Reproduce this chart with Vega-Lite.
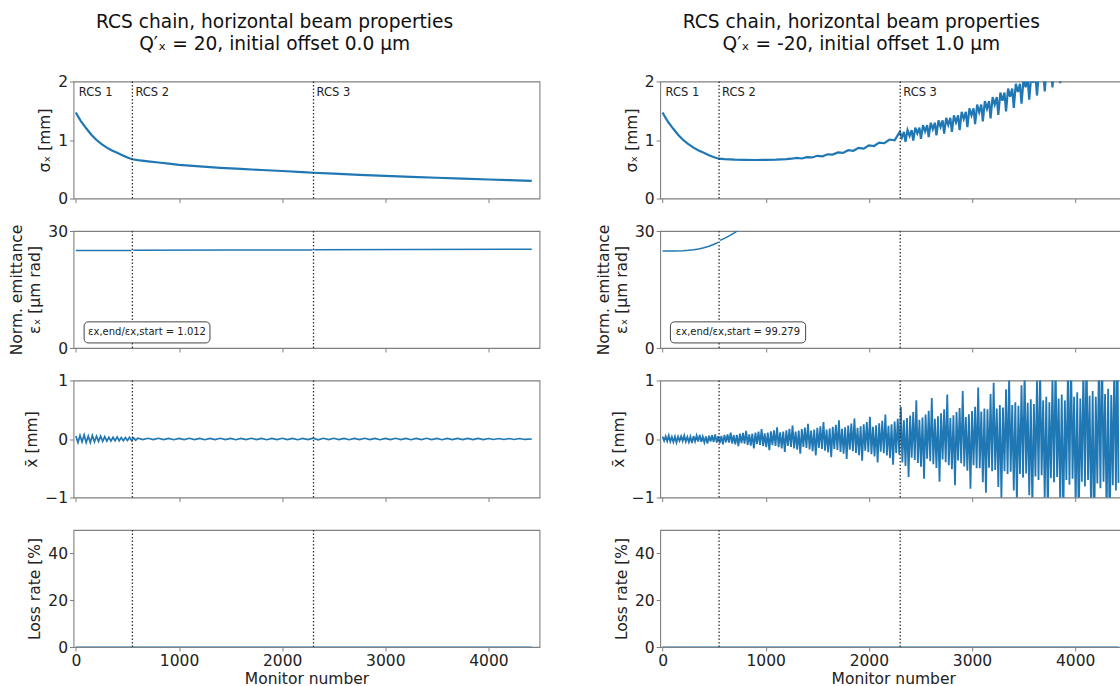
{
"$schema": "https://vega.github.io/schema/vega-lite/v6.json",
"background": "white",
"padding": {"left": 8.5, "top": 12.5, "right": 5, "bottom": 5},
"config": {
  "font": "DejaVu Sans",
  "view": {"stroke": "#808080", "strokeWidth": 1.1},
  "axis": {"domain": false, "grid": false, "ticks": true, "tickSize": 4, "tickColor": "#808080", "tickWidth": 1, "labelFont": "DejaVu Sans", "labelFontSize": 15.5, "labelColor": "#222", "labelPadding": 2, "titleFont": "DejaVu Sans", "titleFontSize": 15.5, "titleFontWeight": "normal", "titleColor": "#222", "titlePadding": 5, "titleLineHeight": 18, "labelFlush": false, "labelOverlap": false, "labelBound": false},
  "title": {"font": "DejaVu Sans", "fontSize": 18.6, "fontWeight": "normal", "color": "#111", "anchor": "middle", "frame": "bounds", "lineHeight": 22, "offset": 20}
},
"datasets": {
  "rcs": [{"m":0,"label":"RCS 1"},{"m":548,"label":"RCS 2"},{"m":2304,"label":"RCS 3"}],
  "ratio": [{"side":"L","t":"εx,end/εx,start = 1.012"},{"side":"R","t":"εx,end/εx,start = 99.279"}],
  "sigL": [{"m":0,"v":1.47},{"m":25,"v":1.39},{"m":50,"v":1.32},{"m":75,"v":1.26},{"m":100,"v":1.2},{"m":150,"v":1.09},{"m":200,"v":1.0},{"m":250,"v":0.93},{"m":300,"v":0.87},{"m":350,"v":0.82},{"m":400,"v":0.78},{"m":450,"v":0.74},{"m":500,"v":0.7},{"m":548,"v":0.67},{"m":600,"v":0.655},{"m":700,"v":0.635},{"m":800,"v":0.615},{"m":900,"v":0.595},{"m":1000,"v":0.575},{"m":1200,"v":0.55},{"m":1400,"v":0.525},{"m":1600,"v":0.505},{"m":1800,"v":0.487},{"m":2000,"v":0.47},{"m":2200,"v":0.452},{"m":2304,"v":0.44},{"m":2500,"v":0.425},{"m":2750,"v":0.405},{"m":3000,"v":0.387},{"m":3250,"v":0.37},{"m":3500,"v":0.355},{"m":3750,"v":0.34},{"m":4000,"v":0.325},{"m":4200,"v":0.313},{"m":4420,"v":0.3}],
  "sigR": [{"m":0,"v":1.47},{"m":25,"v":1.39},{"m":50,"v":1.32},{"m":75,"v":1.26},{"m":100,"v":1.2},{"m":150,"v":1.09},{"m":200,"v":1.0},{"m":250,"v":0.93},{"m":300,"v":0.87},{"m":350,"v":0.82},{"m":400,"v":0.78},{"m":450,"v":0.74},{"m":500,"v":0.705},{"m":548,"v":0.68},{"m":600,"v":0.672},{"m":700,"v":0.664},{"m":800,"v":0.66},{"m":900,"v":0.658},{"m":1000,"v":0.66},{"m":1100,"v":0.664},{"m":1200,"v":0.672},{"m":1250,"v":0.68},
    {"m":1300,"v":0.693},{"m":1350,"v":0.684},{"m":1400,"v":0.708},{"m":1450,"v":0.702},{"m":1500,"v":0.73},{"m":1550,"v":0.722},{"m":1600,"v":0.755},{"m":1650,"v":0.75},{"m":1700,"v":0.787},{"m":1750,"v":0.78},{"m":1800,"v":0.825},{"m":1850,"v":0.815},{"m":1900,"v":0.865},{"m":1950,"v":0.852},{"m":2000,"v":0.908},{"m":2050,"v":0.897},{"m":2100,"v":0.955},{"m":2150,"v":0.945},{"m":2200,"v":1.008},{"m":2250,"v":0.995},
    {"m":2300,"v":1.14},{"m":2320,"v":1.04},{"m":2340,"v":1.14},{"m":2355,"v":0.97},
    {"m":2375,"v":1.17},{"m":2395,"v":1.07},{"m":2415,"v":1.17},{"m":2430,"v":0.99},
    {"m":2450,"v":1.21},{"m":2470,"v":1.11},{"m":2490,"v":1.21},{"m":2505,"v":1.02},
    {"m":2525,"v":1.255},{"m":2545,"v":1.145},{"m":2565,"v":1.255},{"m":2580,"v":1.05},
    {"m":2600,"v":1.295},{"m":2620,"v":1.185},{"m":2640,"v":1.295},{"m":2655,"v":1.08},
    {"m":2675,"v":1.335},{"m":2695,"v":1.225},{"m":2715,"v":1.335},{"m":2730,"v":1.11},
    {"m":2750,"v":1.38},{"m":2770,"v":1.26},{"m":2790,"v":1.38},{"m":2805,"v":1.14},
    {"m":2825,"v":1.42},{"m":2845,"v":1.3},{"m":2865,"v":1.42},{"m":2880,"v":1.17},
    {"m":2900,"v":1.48},{"m":2920,"v":1.36},{"m":2940,"v":1.48},{"m":2955,"v":1.22},
    {"m":2975,"v":1.54},{"m":2995,"v":1.42},{"m":3015,"v":1.54},{"m":3030,"v":1.27},
    {"m":3050,"v":1.605},{"m":3070,"v":1.475},{"m":3090,"v":1.605},{"m":3105,"v":1.32},
    {"m":3125,"v":1.665},{"m":3145,"v":1.535},{"m":3165,"v":1.665},{"m":3180,"v":1.37},
    {"m":3200,"v":1.735},{"m":3220,"v":1.605},{"m":3240,"v":1.735},{"m":3255,"v":1.43},
    {"m":3275,"v":1.81},{"m":3295,"v":1.67},{"m":3315,"v":1.81},{"m":3330,"v":1.49},
    {"m":3350,"v":1.88},{"m":3370,"v":1.74},{"m":3390,"v":1.88},{"m":3405,"v":1.55},
    {"m":3425,"v":1.96},{"m":3445,"v":1.82},{"m":3465,"v":1.96},{"m":3480,"v":1.62},
    {"m":3500,"v":2.04},{"m":3520,"v":1.9},{"m":3540,"v":2.04},{"m":3555,"v":1.69},
    {"m":3575,"v":2.12},{"m":3595,"v":1.98},{"m":3615,"v":2.12},{"m":3630,"v":1.76},
    {"m":3650,"v":2.2},{"m":3670,"v":2.06},{"m":3690,"v":2.2},{"m":3705,"v":1.83},
    {"m":3725,"v":2.28},{"m":3745,"v":2.14},{"m":3765,"v":2.28},{"m":3780,"v":1.9},
    {"m":3800,"v":2.36},{"m":3820,"v":2.22},{"m":3840,"v":2.36},{"m":3855,"v":1.97},
    {"m":3875,"v":2.44},{"m":3895,"v":2.3},{"m":3915,"v":2.44},{"m":3930,"v":2.04},
    {"m":3950,"v":2.52},{"m":3970,"v":2.38},{"m":3990,"v":2.52},{"m":4005,"v":2.12},
    {"m":4100,"v":2.6},{"m":4420,"v":2.9}],
  "emL": [{"m":0,"v":25.0,"s":1},{"m":540,"v":25.02,"s":1},{"m":556,"v":25.05,"s":2},{"m":1500,"v":25.1,"s":2},{"m":2296,"v":25.15,"s":2},{"m":2312,"v":25.2,"s":3},{"m":4420,"v":25.35,"s":3}],
  "emR": [{"m":0,"v":24.9,"s":1},{"m":100,"v":24.9,"s":1},{"m":200,"v":24.95,"s":1},{"m":250,"v":25.05,"s":1},{"m":300,"v":25.2,"s":1},{"m":350,"v":25.4,"s":1},{"m":400,"v":25.7,"s":1},{"m":450,"v":26.1,"s":1},{"m":500,"v":26.6,"s":1},{"m":540,"v":27.1,"s":1},{"m":556,"v":27.6,"s":2},{"m":600,"v":28.1,"s":2},{"m":650,"v":28.8,"s":2},{"m":700,"v":29.6,"s":2},{"m":750,"v":30.5,"s":2},{"m":800,"v":31.6,"s":2},{"m":900,"v":34,"s":2},{"m":1000,"v":37,"s":2},{"m":1500,"v":60,"s":2},{"m":2296,"v":150,"s":2},{"m":2312,"v":160,"s":3},{"m":3000,"v":500,"s":3},{"m":4420,"v":2480,"s":3}],
  "xL": [{"m":0,"v":0.05},{"m":20,"v":-0.06},{"m":40,"v":0.06},{"m":60,"v":-0.05},{"m":80,"v":0.07},{"m":100,"v":-0.06},{"m":120,"v":0.05},{"m":140,"v":-0.06},{"m":160,"v":0.06},{"m":180,"v":-0.05},{"m":200,"v":0.05},{"m":220,"v":-0.04},{"m":240,"v":0.05},{"m":260,"v":-0.04},{"m":280,"v":0.04},{"m":300,"v":-0.035},{"m":320,"v":0.03},{"m":340,"v":-0.035},{"m":360,"v":0.03},{"m":380,"v":-0.03},{"m":400,"v":0.035},{"m":420,"v":-0.03},{"m":440,"v":0.025},{"m":460,"v":-0.03},{"m":480,"v":0.025},{"m":500,"v":-0.025},{"m":520,"v":0.03},{"m":540,"v":-0.025},{"m":560,"v":0.02},{"m":580,"v":-0.02},{"m":600,"v":0.015},{"m":650,"v":-0.01},{"m":700,"v":0.012},{"m":750,"v":-0.01},{"m":800,"v":0.012},{"m":850,"v":-0.01},{"m":900,"v":0.01},{"m":950,"v":-0.012},{"m":1000,"v":0.01},{"m":1050,"v":-0.01},{"m":1100,"v":0.012},{"m":1150,"v":-0.01},{"m":1200,"v":0.01},{"m":1250,"v":-0.012},{"m":1300,"v":0.01},{"m":1350,"v":-0.01},{"m":1400,"v":0.012},{"m":1450,"v":-0.01},{"m":1500,"v":0.01},{"m":1550,"v":-0.012},{"m":1600,"v":0.01},{"m":1650,"v":-0.01},{"m":1700,"v":0.012},{"m":1750,"v":-0.01},{"m":1800,"v":0.01},{"m":1850,"v":-0.012},{"m":1900,"v":0.01},{"m":1950,"v":-0.01},{"m":2000,"v":0.012},{"m":2050,"v":-0.01},{"m":2100,"v":0.01},{"m":2150,"v":-0.012},{"m":2200,"v":0.01},{"m":2250,"v":-0.01},{"m":2300,"v":0.014},{"m":2350,"v":-0.014},{"m":2400,"v":0.012},{"m":2450,"v":-0.01},{"m":2500,"v":0.012},{"m":2550,"v":-0.01},{"m":2600,"v":0.01},{"m":2650,"v":-0.012},{"m":2700,"v":0.01},{"m":2750,"v":-0.01},{"m":2800,"v":0.012},{"m":2850,"v":-0.01},{"m":2900,"v":0.01},{"m":2950,"v":-0.012},{"m":3000,"v":0.01},{"m":3050,"v":-0.01},{"m":3100,"v":0.012},{"m":3150,"v":-0.01},{"m":3200,"v":0.01},{"m":3250,"v":-0.012},{"m":3300,"v":0.01},{"m":3350,"v":-0.01},{"m":3400,"v":0.012},{"m":3450,"v":-0.01},{"m":3500,"v":0.01},{"m":3550,"v":-0.012},{"m":3600,"v":0.01},{"m":3650,"v":-0.01},{"m":3700,"v":0.01},{"m":3750,"v":-0.01},{"m":3800,"v":0.01},{"m":3850,"v":-0.01},{"m":3900,"v":0.01},{"m":3950,"v":-0.01},{"m":4000,"v":0.008},{"m":4050,"v":-0.008},{"m":4100,"v":0.008},{"m":4150,"v":-0.008},{"m":4200,"v":0.008},{"m":4250,"v":-0.008},{"m":4300,"v":0.008},{"m":4350,"v":-0.008},{"m":4420,"v":0.0}],
  "xR": [{"m":0,"v":0.04},{"m":15,"v":-0.032},{"m":30,"v":0.046},{"m":45,"v":-0.036},{"m":60,"v":0.06},
    {"m":75,"v":-0.045},{"m":90,"v":0.036},{"m":105,"v":-0.052},{"m":120,"v":0.04},{"m":135,"v":-0.06},
    {"m":150,"v":0.04},{"m":165,"v":-0.032},{"m":180,"v":0.046},{"m":195,"v":-0.036},{"m":210,"v":0.06},
    {"m":225,"v":-0.045},{"m":240,"v":0.036},{"m":255,"v":-0.052},{"m":270,"v":0.04},{"m":285,"v":-0.07},
    {"m":300,"v":0.05},{"m":315,"v":-0.04},{"m":330,"v":0.058},{"m":345,"v":-0.045},{"m":360,"v":0.07},
    {"m":375,"v":-0.05},{"m":390,"v":0.04},{"m":405,"v":-0.058},{"m":420,"v":0.045},{"m":435,"v":-0.08},
    {"m":450,"v":0.055},{"m":465,"v":-0.044},{"m":480,"v":0.063},{"m":495,"v":-0.05},{"m":510,"v":0.08},
    {"m":525,"v":-0.06},{"m":540,"v":0.048},{"m":555,"v":-0.069},{"m":570,"v":0.054},{"m":585,"v":-0.09},
    {"m":600,"v":0.07},{"m":615,"v":-0.056},{"m":630,"v":0.08},{"m":645,"v":-0.063},{"m":660,"v":0.11},
    {"m":675,"v":-0.08},{"m":690,"v":0.064},{"m":705,"v":-0.092},{"m":720,"v":0.072},{"m":735,"v":-0.12},
    {"m":750,"v":0.09},{"m":765,"v":-0.072},{"m":780,"v":0.104},{"m":795,"v":-0.081},{"m":810,"v":0.14},
    {"m":825,"v":-0.1},{"m":840,"v":0.08},{"m":855,"v":-0.115},{"m":870,"v":0.09},{"m":885,"v":-0.16},
    {"m":900,"v":0.11},{"m":915,"v":-0.088},{"m":930,"v":0.127},{"m":945,"v":-0.099},{"m":960,"v":0.17},
    {"m":975,"v":-0.12},{"m":990,"v":0.096},{"m":1005,"v":-0.138},{"m":1020,"v":0.108},{"m":1035,"v":-0.19},
    {"m":1050,"v":0.13},{"m":1065,"v":-0.104},{"m":1080,"v":0.15},{"m":1095,"v":-0.117},{"m":1110,"v":0.2},
    {"m":1125,"v":-0.14},{"m":1140,"v":0.112},{"m":1155,"v":-0.161},{"m":1170,"v":0.126},{"m":1185,"v":-0.22},
    {"m":1200,"v":0.15},{"m":1215,"v":-0.12},{"m":1230,"v":0.173},{"m":1245,"v":-0.135},{"m":1260,"v":0.23},
    {"m":1275,"v":-0.16},{"m":1290,"v":0.128},{"m":1305,"v":-0.184},{"m":1320,"v":0.144},{"m":1335,"v":-0.25},
    {"m":1350,"v":0.17},{"m":1365,"v":-0.136},{"m":1380,"v":0.196},{"m":1395,"v":-0.153},{"m":1410,"v":0.26},
    {"m":1425,"v":-0.18},{"m":1440,"v":0.144},{"m":1455,"v":-0.207},{"m":1470,"v":0.162},{"m":1485,"v":-0.28},
    {"m":1500,"v":0.19},{"m":1515,"v":-0.152},{"m":1530,"v":0.219},{"m":1545,"v":-0.171},{"m":1560,"v":0.29},
    {"m":1575,"v":-0.2},{"m":1590,"v":0.16},{"m":1605,"v":-0.23},{"m":1620,"v":0.18},{"m":1635,"v":-0.31},
    {"m":1650,"v":0.21},{"m":1665,"v":-0.168},{"m":1680,"v":0.242},{"m":1695,"v":-0.189},{"m":1710,"v":0.32},
    {"m":1725,"v":-0.22},{"m":1740,"v":0.176},{"m":1755,"v":-0.253},{"m":1770,"v":0.198},{"m":1785,"v":-0.34},
    {"m":1800,"v":0.23},{"m":1815,"v":-0.184},{"m":1830,"v":0.265},{"m":1845,"v":-0.207},{"m":1860,"v":0.35},
    {"m":1875,"v":-0.24},{"m":1890,"v":0.192},{"m":1905,"v":-0.276},{"m":1920,"v":0.216},{"m":1935,"v":-0.37},
    {"m":1950,"v":0.25},{"m":1965,"v":-0.2},{"m":1980,"v":0.288},{"m":1995,"v":-0.225},{"m":2010,"v":0.38},
    {"m":2025,"v":-0.26},{"m":2040,"v":0.208},{"m":2055,"v":-0.299},{"m":2070,"v":0.234},{"m":2085,"v":-0.4},
    {"m":2100,"v":0.27},{"m":2115,"v":-0.216},{"m":2130,"v":0.31},{"m":2145,"v":-0.243},{"m":2160,"v":0.42},
    {"m":2175,"v":-0.28},{"m":2190,"v":0.224},{"m":2205,"v":-0.322},{"m":2220,"v":0.252},{"m":2235,"v":-0.44},
    {"m":2250,"v":0.3},{"m":2265,"v":-0.24},{"m":2280,"v":0.345},{"m":2295,"v":-0.27},{"m":2310,"v":0.55},
    {"m":2325,"v":-0.4},{"m":2340,"v":0.32},{"m":2355,"v":-0.46},{"m":2370,"v":0.36},{"m":2385,"v":-0.65},
    {"m":2400,"v":0.4},{"m":2415,"v":-0.32},{"m":2430,"v":0.46},{"m":2445,"v":-0.36},{"m":2460,"v":0.66},
    {"m":2475,"v":-0.41},{"m":2490,"v":0.328},{"m":2505,"v":-0.472},{"m":2520,"v":0.369},{"m":2535,"v":-0.68},
    {"m":2550,"v":0.42},{"m":2565,"v":-0.336},{"m":2580,"v":0.483},{"m":2595,"v":-0.378},{"m":2610,"v":0.7},
    {"m":2625,"v":-0.43},{"m":2640,"v":0.344},{"m":2655,"v":-0.495},{"m":2670,"v":0.387},{"m":2685,"v":-0.73},
    {"m":2700,"v":0.44},{"m":2715,"v":-0.352},{"m":2730,"v":0.506},{"m":2745,"v":-0.396},{"m":2760,"v":0.76},
    {"m":2775,"v":-0.45},{"m":2790,"v":0.36},{"m":2805,"v":-0.518},{"m":2820,"v":0.405},{"m":2835,"v":-0.79},
    {"m":2850,"v":0.46},{"m":2865,"v":-0.368},{"m":2880,"v":0.529},{"m":2895,"v":-0.414},{"m":2910,"v":0.82},
    {"m":2925,"v":-0.47},{"m":2940,"v":0.376},{"m":2955,"v":-0.541},{"m":2970,"v":0.423},{"m":2985,"v":-0.85},
    {"m":3000,"v":0.48},{"m":3015,"v":-0.45},{"m":3030,"v":0.552},{"m":3045,"v":-0.5},{"m":3060,"v":0.88},
    {"m":3075,"v":-0.5},{"m":3090,"v":0.47},{"m":3105,"v":-0.74},{"m":3120,"v":0.52},{"m":3135,"v":-0.92},
    {"m":3150,"v":0.51},{"m":3165,"v":-0.49},{"m":3180,"v":0.77},{"m":3195,"v":-0.55},{"m":3210,"v":0.96},
    {"m":3225,"v":-0.53},{"m":3240,"v":0.52},{"m":3255,"v":-0.82},{"m":3270,"v":0.58},{"m":3285,"v":-1.02},
    {"m":3300,"v":0.54},{"m":3315,"v":-0.55},{"m":3330,"v":0.85},{"m":3345,"v":-0.6},{"m":3360,"v":1.06},
    {"m":3375,"v":-0.56},{"m":3390,"v":0.58},{"m":3405,"v":-0.88},{"m":3420,"v":0.63},{"m":3435,"v":-1.1},
    {"m":3450,"v":0.57},{"m":3465,"v":-0.6},{"m":3480,"v":0.92},{"m":3495,"v":-0.66},{"m":3510,"v":1.15},
    {"m":3525,"v":-0.59},{"m":3540,"v":0.62},{"m":3555,"v":-0.96},{"m":3570,"v":0.68},{"m":3585,"v":-1.2},
    {"m":3600,"v":0.6},{"m":3615,"v":-0.64},{"m":3630,"v":1.0},{"m":3645,"v":-0.7},{"m":3660,"v":1.25},
    {"m":3675,"v":-0.62},{"m":3690,"v":0.66},{"m":3705,"v":-1.04},{"m":3720,"v":0.72},{"m":3735,"v":-1.3},
    {"m":3750,"v":0.63},{"m":3765,"v":-0.67},{"m":3780,"v":1.08},{"m":3795,"v":-0.74},{"m":3810,"v":1.35},
    {"m":3825,"v":-0.65},{"m":3840,"v":0.69},{"m":3855,"v":-1.12},{"m":3870,"v":0.76},{"m":3885,"v":-1.4},
    {"m":3900,"v":0.66},{"m":3915,"v":-0.7},{"m":3930,"v":1.16},{"m":3945,"v":-0.78},{"m":3960,"v":1.45},
    {"m":3975,"v":-0.68},{"m":3990,"v":0.72},{"m":4005,"v":-1.2},{"m":4020,"v":0.8},{"m":4035,"v":-1.5},
    {"m":4050,"v":0.69},{"m":4065,"v":-0.73},{"m":4080,"v":1.24},{"m":4095,"v":-0.81},{"m":4110,"v":1.55},
    {"m":4125,"v":-0.7},{"m":4140,"v":0.74},{"m":4155,"v":-1.28},{"m":4170,"v":0.82},{"m":4185,"v":-1.6},
    {"m":4200,"v":0.72},{"m":4215,"v":-0.76},{"m":4230,"v":1.32},{"m":4245,"v":-0.84},{"m":4260,"v":1.65},
    {"m":4275,"v":-0.73},{"m":4290,"v":0.77},{"m":4305,"v":-1.36},{"m":4320,"v":0.86},{"m":4335,"v":-1.7},
    {"m":4350,"v":0.75},{"m":4365,"v":-0.79},{"m":4380,"v":1.4},{"m":4395,"v":-0.88},{"m":4410,"v":1.75},{"m":4420,"v":-0.75}],
  "loss": [{"m":0,"v":0},{"m":4420,"v":0}]
},
"spacing": 54.7,
"hconcat": [
 {
  "title": {"text": ["RCS chain, horizontal beam properties", "Q′ₓ =  20, initial offset 0.0 μm"]},
  "spacing": 32.5,
  "bounds": "flush",
  "vconcat": [
   {"width": 466, "height": 117, "layer": [
     {"data": {"name": "sigL"}, "mark": {"type": "line", "color": "#1f77b4", "strokeWidth": 2.2, "clip": true},
      "encoding": {"x": {"field": "m", "type": "quantitative", "scale": {"domain": [-23, 4495], "nice": false, "zero": false}, "axis": {"values": [0,1000,2000,3000,4000], "format": ".0f", "labels": false, "title": null, "labelOverlap": false}},
                   "y": {"field": "v", "type": "quantitative", "scale": {"domain": [0, 2], "nice": false, "zero": false}, "axis": {"values": [0,1,2], "format": ".0f", "labelOverlap": false, "labelBound": false, "title": "σₓ [mm]"}}}},
     {"data": {"name": "rcs"}, "transform": [{"filter": "datum.m > 0"}], "mark": {"type": "rule", "color": "#333", "strokeWidth": 1.3, "strokeDash": [1.5, 2]}, "encoding": {"x": {"field": "m", "type": "quantitative"}}},
     {"data": {"name": "rcs"}, "mark": {"type": "text", "align": "left", "baseline": "top", "dx": 3, "dy": 5, "fontSize": 11.5, "color": "#222"}, "encoding": {"x": {"field": "m", "type": "quantitative"}, "y": {"datum": 2}, "text": {"field": "label"}}}
   ]},
   {"width": 466, "height": 117, "layer": [
     {"data": {"name": "emL"}, "mark": {"type": "line", "color": "#1f77b4", "strokeWidth": 1.5, "clip": true},
      "encoding": {"x": {"field": "m", "type": "quantitative", "scale": {"domain": [-23, 4495], "nice": false, "zero": false}, "axis": {"values": [0,1000,2000,3000,4000], "format": ".0f", "labels": false, "title": null, "labelOverlap": false}},
                   "y": {"field": "v", "type": "quantitative", "scale": {"domain": [0, 30], "nice": false}, "axis": {"values": [0,10,20,30], "format": ".0f", "labelOverlap": false, "labelBound": false, "title": ["Norm. emittance", "εₓ [μm rad]"]}},
                   "detail": {"field": "s"}}},
     {"data": {"name": "rcs"}, "transform": [{"filter": "datum.m > 0"}], "mark": {"type": "rule", "color": "#333", "strokeWidth": 1.3, "strokeDash": [1.5, 2]}, "encoding": {"x": {"field": "m", "type": "quantitative"}}},
     {"data": {"name": "ratio"}, "transform": [{"filter": "datum.side == 'L'"}], "mark": {"type": "rect", "fill": "white", "stroke": "#444", "strokeWidth": 1, "cornerRadius": 4}, "encoding": {"x": {"datum": 80}, "x2": {"datum": 1300}, "y": {"datum": 1.3}, "y2": {"datum": 6.7}}},
     {"data": {"name": "ratio"}, "transform": [{"filter": "datum.side == 'L'"}], "mark": {"type": "text", "align": "center", "baseline": "middle", "fontSize": 10, "color": "#222"}, "encoding": {"x": {"datum": 690}, "y": {"datum": 4}, "text": {"field": "t"}}}
   ]},
   {"width": 466, "height": 117, "layer": [
     {"data": {"name": "xL"}, "mark": {"type": "line", "color": "#1f77b4", "strokeWidth": 1.7, "clip": true},
      "encoding": {"x": {"field": "m", "type": "quantitative", "scale": {"domain": [-23, 4495], "nice": false, "zero": false}, "axis": {"values": [0,1000,2000,3000,4000], "format": ".0f", "labels": false, "title": null, "labelOverlap": false}},
                   "y": {"field": "v", "type": "quantitative", "scale": {"domain": [-1, 1], "nice": false, "zero": false}, "axis": {"values": [-1,0,1], "format": ".0f", "labelOverlap": false, "labelBound": false, "title": "x̄ [mm]"}}}},
     {"data": {"name": "rcs"}, "transform": [{"filter": "datum.m > 0"}], "mark": {"type": "rule", "color": "#333", "strokeWidth": 1.3, "strokeDash": [1.5, 2]}, "encoding": {"x": {"field": "m", "type": "quantitative"}}}
   ]},
   {"width": 466, "height": 117, "layer": [
     {"data": {"name": "loss"}, "mark": {"type": "line", "color": "#1f77b4", "strokeWidth": 1.5, "opacity": 0.6, "clip": true},
      "encoding": {"x": {"field": "m", "type": "quantitative", "scale": {"domain": [-23, 4495], "nice": false, "zero": false}, "axis": {"values": [0,1000,2000,3000,4000], "format": ".0f", "labelOverlap": false, "title": "Monitor number", "titlePadding": 3}},
                   "y": {"field": "v", "type": "quantitative", "scale": {"domain": [0, 50], "nice": false}, "axis": {"values": [0,20,40], "format": ".0f", "labelOverlap": false, "labelBound": false, "title": "Loss rate [%]"}}}},
     {"data": {"name": "rcs"}, "transform": [{"filter": "datum.m > 0"}], "mark": {"type": "rule", "color": "#333", "strokeWidth": 1.3, "strokeDash": [1.5, 2]}, "encoding": {"x": {"field": "m", "type": "quantitative"}}}
   ]}
  ]
 },
 {
  "title": {"text": ["RCS chain, horizontal beam properties", "Q′ₓ =  -20, initial offset 1.0 μm"]},
  "spacing": 32.5,
  "bounds": "flush",
  "vconcat": [
   {"width": 466, "height": 117, "layer": [
     {"data": {"name": "sigR"}, "mark": {"type": "line", "color": "#1f77b4", "strokeWidth": 2.2, "clip": true},
      "encoding": {"x": {"field": "m", "type": "quantitative", "scale": {"domain": [-23, 4495], "nice": false, "zero": false}, "axis": {"values": [0,1000,2000,3000,4000], "format": ".0f", "labels": false, "title": null, "labelOverlap": false}},
                   "y": {"field": "v", "type": "quantitative", "scale": {"domain": [0, 2], "nice": false, "zero": false}, "axis": {"values": [0,1,2], "format": ".0f", "labelOverlap": false, "labelBound": false, "title": "σₓ [mm]"}}}},
     {"data": {"name": "rcs"}, "transform": [{"filter": "datum.m > 0"}], "mark": {"type": "rule", "color": "#333", "strokeWidth": 1.3, "strokeDash": [1.5, 2]}, "encoding": {"x": {"field": "m", "type": "quantitative"}}},
     {"data": {"name": "rcs"}, "mark": {"type": "text", "align": "left", "baseline": "top", "dx": 3, "dy": 5, "fontSize": 11.5, "color": "#222"}, "encoding": {"x": {"field": "m", "type": "quantitative"}, "y": {"datum": 2}, "text": {"field": "label"}}}
   ]},
   {"width": 466, "height": 117, "layer": [
     {"data": {"name": "emR"}, "mark": {"type": "line", "color": "#1f77b4", "strokeWidth": 1.5, "clip": true},
      "encoding": {"x": {"field": "m", "type": "quantitative", "scale": {"domain": [-23, 4495], "nice": false, "zero": false}, "axis": {"values": [0,1000,2000,3000,4000], "format": ".0f", "labels": false, "title": null, "labelOverlap": false}},
                   "y": {"field": "v", "type": "quantitative", "scale": {"domain": [0, 30], "nice": false}, "axis": {"values": [0,10,20,30], "format": ".0f", "labelOverlap": false, "labelBound": false, "title": ["Norm. emittance", "εₓ [μm rad]"]}},
                   "detail": {"field": "s"}}},
     {"data": {"name": "rcs"}, "transform": [{"filter": "datum.m > 0"}], "mark": {"type": "rule", "color": "#333", "strokeWidth": 1.3, "strokeDash": [1.5, 2]}, "encoding": {"x": {"field": "m", "type": "quantitative"}}},
     {"data": {"name": "ratio"}, "transform": [{"filter": "datum.side == 'R'"}], "mark": {"type": "rect", "fill": "white", "stroke": "#444", "strokeWidth": 1, "cornerRadius": 4}, "encoding": {"x": {"datum": 76}, "x2": {"datum": 1387}, "y": {"datum": 1.3}, "y2": {"datum": 6.7}}},
     {"data": {"name": "ratio"}, "transform": [{"filter": "datum.side == 'R'"}], "mark": {"type": "text", "align": "center", "baseline": "middle", "fontSize": 10, "color": "#222"}, "encoding": {"x": {"datum": 731}, "y": {"datum": 4}, "text": {"field": "t"}}}
   ]},
   {"width": 466, "height": 117, "layer": [
     {"data": {"name": "xR"}, "mark": {"type": "line", "color": "#1f77b4", "strokeWidth": 1.8, "clip": true},
      "encoding": {"x": {"field": "m", "type": "quantitative", "scale": {"domain": [-23, 4495], "nice": false, "zero": false}, "axis": {"values": [0,1000,2000,3000,4000], "format": ".0f", "labels": false, "title": null, "labelOverlap": false}},
                   "y": {"field": "v", "type": "quantitative", "scale": {"domain": [-1, 1], "nice": false, "zero": false}, "axis": {"values": [-1,0,1], "format": ".0f", "labelOverlap": false, "labelBound": false, "title": "x̄ [mm]"}}}},
     {"data": {"name": "rcs"}, "transform": [{"filter": "datum.m > 0"}], "mark": {"type": "rule", "color": "#333", "strokeWidth": 1.3, "strokeDash": [1.5, 2]}, "encoding": {"x": {"field": "m", "type": "quantitative"}}}
   ]},
   {"width": 466, "height": 117, "layer": [
     {"data": {"name": "loss"}, "mark": {"type": "line", "color": "#1f77b4", "strokeWidth": 1.5, "opacity": 0.6, "clip": true},
      "encoding": {"x": {"field": "m", "type": "quantitative", "scale": {"domain": [-23, 4495], "nice": false, "zero": false}, "axis": {"values": [0,1000,2000,3000,4000], "format": ".0f", "labelOverlap": false, "title": "Monitor number", "titlePadding": 3}},
                   "y": {"field": "v", "type": "quantitative", "scale": {"domain": [0, 50], "nice": false}, "axis": {"values": [0,20,40], "format": ".0f", "labelOverlap": false, "labelBound": false, "title": "Loss rate [%]"}}}},
     {"data": {"name": "rcs"}, "transform": [{"filter": "datum.m > 0"}], "mark": {"type": "rule", "color": "#333", "strokeWidth": 1.3, "strokeDash": [1.5, 2]}, "encoding": {"x": {"field": "m", "type": "quantitative"}}}
   ]}
  ]
 }
]
}
